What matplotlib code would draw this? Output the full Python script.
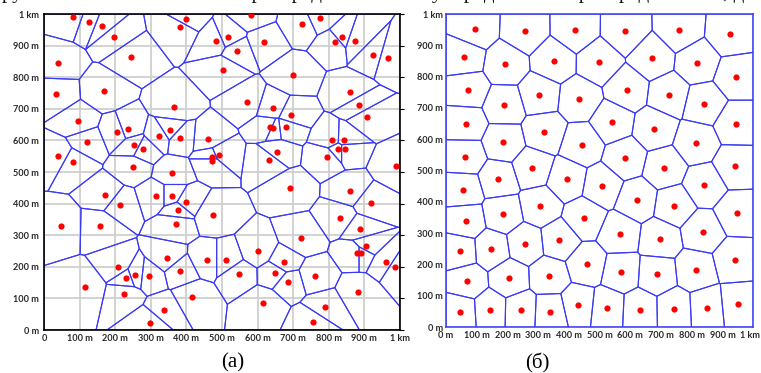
import matplotlib
matplotlib.use("Agg")
import matplotlib.pyplot as plt
import matplotlib.transforms as mtransforms
from matplotlib.collections import PolyCollection
import numpy as np

# --- данные: точки (метры) ---
# (а) хаотичное расположение
left_x = [82, 127, 164, 196, 38, 244, 398, 382, 34, 169, 364, 96, 120, 206, 236, 252, 278, 324, 354, 382,
          462, 40, 81, 250, 360,
          581, 482, 516, 542, 618, 725, 774, 817, 838, 874, 924, 967, 504, 700, 860, 886, 908, 570, 642, 694,
          634, 644, 681, 810, 844, 826, 846, 654, 632, 794, 473, 473, 492, 988,
          171, 214, 314, 360, 398, 376, 48, 158, 370, 458, 346, 208, 382, 231, 256, 296, 116, 226, 417, 337, 298,
          690, 860, 918, 476, 831, 887, 723, 904, 879, 891, 600, 512, 674, 961, 987, 547, 650, 761, 686, 883,
          616, 790, 756]
left_y = [990, 976, 963, 928, 845, 865, 984, 958, 746, 755, 705, 660, 595, 626, 636, 585, 573, 615, 632, 609,
          603, 551, 531, 516, 496,
          998, 915, 928, 884, 910, 967, 987, 910, 926, 915, 871, 860, 823, 807, 752, 711, 675, 722, 702, 679,
          642, 638, 642, 602, 601, 573, 573, 563, 537, 548, 548, 535, 555, 518,
          427, 397, 425, 425, 405, 381, 330, 328, 335, 222, 227, 198, 188, 166, 174, 170, 135, 113, 104, 64, 23,
          449, 441, 401, 364, 355, 320, 291, 267, 245, 245, 250, 222, 214, 214, 199, 177, 179, 172, 153, 120,
          84, 72, 25]

# (б) регулярное расположение
right_x = [93, 256, 421, 58, 193, 351, 71, 189, 304, 433, 64, 187, 320, 442, 62, 281, 170, 393,
           583, 759, 925, 497, 671, 818, 944, 590, 725, 841, 541, 678, 814, 944, 583, 711, 941,
           56, 185, 306, 450, 64, 148, 258, 369, 45, 458, 206, 335, 69, 430, 143, 244, 339, 47,
           508, 621, 743, 841, 946, 565, 696, 835, 939, 570, 686, 812, 524, 631, 743, 849, 950]
right_y = [952, 946, 948, 863, 840, 850, 758, 708, 742, 728, 650, 591, 623, 583, 545, 508, 472, 472,
           946, 950, 937, 848, 860, 845, 800, 759, 742, 714, 655, 634, 589, 650, 540, 509, 514,
           438, 363, 387, 348, 340, 249, 266, 278, 242, 201, 157, 163, 147, 71, 56, 54, 50, 50,
           451, 407, 388, 454, 364, 298, 281, 305, 214, 177, 169, 182, 61, 56, 58, 63, 73]

ticks = [0, 100, 200, 300, 400, 500, 600, 700, 800, 900, 1000]
left_xlabels = ["0", "100 m", "200 m", "300 m", "400 m", "500 m", "600 m", "700 m", "800 m", "900 m", "1 km"]
ylabels = ["0 m", "100 m", "200 m", "300 m", "400 m", "500 m", "600 m", "700 m", "800 m", "900 m", "1 km"]

SIZE = 1000.0
BLUE = "#3a3af5"


def clip_halfplane(poly, a, b, c):
    # оставить часть многоугольника, где a*x + b*y <= c
    out = []
    n = len(poly)
    for k in range(n):
        p = poly[k]
        q = poly[(k + 1) % n]
        fp = a * p[0] + b * p[1] - c
        fq = a * q[0] + b * q[1] - c
        if fp <= 0:
            out.append(p)
        if fp * fq < 0:
            t = fp / (fp - fq)
            out.append((p[0] + t * (q[0] - p[0]), p[1] + t * (q[1] - p[1])))
    return out


def voronoi_cells(xs, ys):
    pts = np.column_stack([xs, ys]).astype(float)
    cells = []
    for i, si in enumerate(pts):
        poly = [(0.0, 0.0), (SIZE, 0.0), (SIZE, SIZE), (0.0, SIZE)]
        for j, sj in enumerate(pts):
            if i == j:
                continue
            d = sj - si
            if not d.any():
                continue
            m = (si + sj) / 2
            poly = clip_halfplane(poly, d[0], d[1], d @ m)
            if not poly:
                break
        if poly:
            cells.append(poly)
    return cells


def style_ticks(ax, xlabels, pad_x, pad_y):
    ax.set_xlim(0, SIZE)
    ax.set_ylim(0, SIZE)
    ax.set_xticks(ticks)
    ax.set_yticks(ticks)
    ax.set_xticklabels(xlabels)
    ax.set_yticklabels(ylabels)
    for lab in ax.get_xticklabels() + ax.get_yticklabels():
        lab.set_fontfamily("Lato")
        lab.set_fontweight("bold")
        lab.set_fontsize(6.6)
        lab.set_color("#2a2a2a")
    ax.tick_params(axis="x", length=0, pad=pad_x)
    ax.tick_params(axis="y", length=0, pad=pad_y)


fig = plt.figure(figsize=(7.61, 3.73), dpi=100)
fig.patch.set_facecolor("white")

# --- (а) ---
ax1 = fig.add_axes([44 / 761, 43 / 373, 356 / 761, 316 / 373])
ax1.grid(True, color="#cfcfcf", linewidth=1.3, zorder=0)
ax1.set_axisbelow(True)
ax1.add_collection(PolyCollection(voronoi_cells(left_x, left_y), facecolors="none",
                                  edgecolors=BLUE, linewidths=0.8, zorder=2))
ax1.scatter(left_x, left_y, s=20, color="#ff0000", linewidths=0, zorder=3)
style_ticks(ax1, left_xlabels, 3.2, 3.6)
ax1.tick_params(axis="y", right=True, direction="out", which="major")
ax1.yaxis.set_tick_params(which="major", length=0)
for t in ax1.yaxis.get_major_ticks():
    t.tick2line.set_markersize(3)
    t.tick2line.set_markeredgewidth(0.8)
for s in ax1.spines.values():
    s.set_color("black")
    s.set_linewidth(1.2)

# --- (б) ---
ax2 = fig.add_axes([446 / 761, 45.7 / 373, 307.3 / 761, 313.3 / 373])
ax2.add_collection(PolyCollection(voronoi_cells(right_x, right_y), facecolors="none",
                                  edgecolors=BLUE, linewidths=0.8, zorder=2))
ax2.scatter(right_x, right_y, s=20, color="#ff0000", linewidths=0, zorder=3)
style_ticks(ax2, ylabels, 2.6, 2.2)
for s in ax2.spines.values():
    s.set_color(BLUE)
    s.set_linewidth(1.1)
# последняя подпись «1 km» чуть левее, чтобы не выходила за край
last = ax2.get_xticklabels()[-1]
last.set_transform(last.get_transform() + mtransforms.ScaledTranslation(-2.2 / 72, 0, fig.dpi_scale_trans))

# подписи
fig.text(233 / 761, 1 - 363 / 373, "(a)", ha="center", va="center",
         fontsize=15, family="Liberation Serif")
fig.text(537 / 761, 1 - 363 / 373, "(б)", ha="center", va="center",
         fontsize=15, family="Liberation Serif")
# обрезанная строка текста сверху (видны только нижние части букв)
fig.text(2 / 761, 1 - 3 / 373,
         "руппы точек с хаотическим распределением и с упорядоченным распределением, для у которых пространство разбито",
         ha="left", va="bottom", fontsize=15, family="Liberation Serif", color="#111111")

fig.savefig("out.png", dpi=100)
